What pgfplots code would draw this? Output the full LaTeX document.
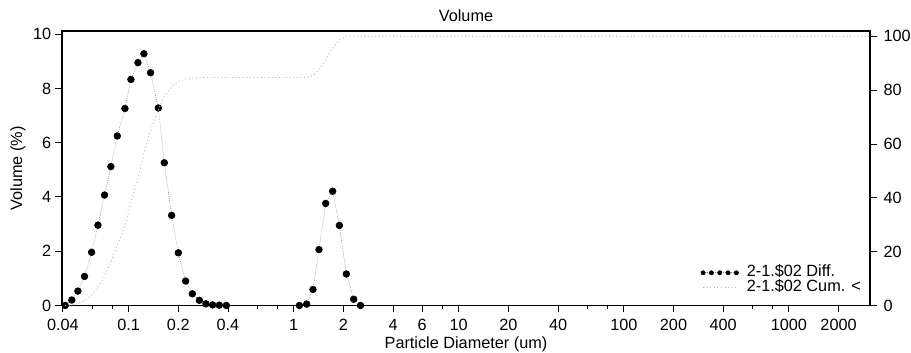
\documentclass[border=0pt]{standalone}
\usepackage{fontspec}
\setmainfont{Liberation Sans}
\usepackage{pgfplots}
\pgfplotsset{compat=1.18}
\definecolor{cumgray}{gray}{0.72}
\definecolor{lingray}{gray}{0.55}
\begin{document}
\begin{tikzpicture}
\pgfplotsset{
  every axis/.append style={font=\fontsize{12.2}{14}\selectfont},
  /pgf/number format/assume math mode=true,
  every axis title shift=0pt,
}
\begin{axis}[
  at={(0pt,0pt)}, anchor=south west,
  scale only axis, width=606pt, height=205.9pt,
  xmode=log, xmin=0.0395, xmax=3100,
  ymin=0, ymax=10.12,
  xtick={0.04,0.1,0.2,0.4,1,2,4,6,10,20,40,100,200,400,1000,2000},
  xticklabels={0.04,0.1,0.2,0.4,1,2,4,6,10,20,40,100,200,400,1000,2000},
  minor xtick={0.06,0.08,0.6,0.8,8,60,80,600,800},
  ytick={0,2,4,6,8,10},
  xtick pos=bottom, ytick pos=left,
  tick align=outside,
  major tick length=5pt, minor tick length=2.5pt,
  tick style={black, line width=0.7pt},
  axis line style={line width=0.9pt},
  xticklabel style={anchor=base, yshift=-14pt, inner sep=0pt},
  yticklabel style={anchor=east, inner sep=0pt, xshift=-3pt},
  title={Volume},
  title style={at={(axis description cs:0.5,1.0339)}, anchor=base, inner sep=0pt, yshift=0pt},
  xlabel={Particle Diameter (um)},
  xlabel style={at={(axis description cs:0.5,-0.1585)}, anchor=base, inner sep=0pt},
  ylabel={Volume (\%)},
  ylabel style={at={(axis description cs:-0.0545,0.5)}, anchor=center, inner sep=0pt},
]
\addplot[lingray, densely dotted, line width=0.5pt, mark=*, mark size=2.5pt,
  mark options={solid, fill=black, draw=black}] table {
x y
0.0413 0.00
0.0453 0.20
0.0493 0.53
0.0541 1.07
0.0597 1.96
0.0652 2.96
0.0715 4.07
0.0781 5.12
0.0854 6.25
0.0950 7.26
0.1033 8.33
0.1139 8.95
0.1238 9.28
0.1359 8.58
0.1514 7.28
0.1646 5.26
0.1823 3.32
0.2001 1.94
0.2216 0.90
0.2432 0.43
0.2683 0.19
0.2941 0.06
0.3229 0.02
0.3545 0.01
0.3910 0.00
};
\addplot[lingray, densely dotted, line width=0.5pt, mark=*, mark size=2.5pt,
  mark options={solid, fill=black, draw=black}] table {
x y
1.083 0.00
1.199 0.05
1.309 0.59
1.423 2.06
1.563 3.76
1.722 4.21
1.892 2.95
2.085 1.16
2.310 0.23
2.540 0.00
};
\end{axis}
\begin{axis}[
  at={(0pt,0pt)}, anchor=south west,
  scale only axis, width=606pt, height=205.9pt,
  xmode=log, xmin=0.0395, xmax=3100,
  ymin=0, ymax=102,
  axis x line=none, axis y line*=right,
  ytick={0,20,40,60,80,100},
  tick align=outside,
  major tick length=5pt,
  tick style={black, line width=0.7pt},
  axis line style={line width=0.9pt},
  yticklabel style={anchor=west, inner sep=0pt, xshift=5pt},
  legend style={draw=none, fill=none, at={(axis description cs:0.994,0.026)}, anchor=south east,
    font=\fontsize{12.2}{10.5}\selectfont, row sep=0pt,
    nodes={inner sep=0pt, text height=8.7pt, text depth=2.6pt},
    column sep=6pt},
  legend cell align=left,
]
\addlegendimage{legend image code/.code={
  \draw[lingray, densely dotted, line width=0.5pt] (0pt,0pt) -- (25pt,0pt);
  \fill[black] (0pt,0pt) circle (1.6pt);
  \fill[black] (6.25pt,0pt) circle (1.6pt);
  \fill[black] (12.5pt,0pt) circle (1.6pt);
  \fill[black] (18.75pt,0pt) circle (1.6pt);
  \fill[black] (25pt,0pt) circle (1.6pt);
}}
\addlegendentry{2-1.\$02 Diff.}
\addplot[cumgray, dotted, line width=0.7pt,
  legend image code/.code={\draw[cumgray, dotted, line width=0.7pt] (0pt,0pt) -- (25pt,0pt);}] table {
x y
0.0413 0.0
0.0453 0.2
0.0493 0.7
0.0541 1.8
0.0597 3.8
0.0652 6.8
0.0715 10.9
0.0781 16.1
0.0854 22.4
0.0950 29.7
0.1033 38.1
0.1139 47.2
0.1238 56.6
0.1359 65.2
0.1514 72.6
0.1646 77.9
0.1823 81.2
0.2001 83.2
0.2216 84.1
0.2432 84.5
0.2683 84.6
0.2941 84.7
0.5000 84.7
1.0000 84.7
1.0830 84.7
1.1990 84.8
1.3090 85.4
1.4230 87.5
1.5630 91.3
1.7220 95.6
1.8920 98.6
2.0850 99.8
2.3100 100.0
2.5400 100.0
10.000 100.0
100.00 100.0
1000.0 100.0
3100.0 100.0
};
\addlegendentry{2-1.\$02 Cum. <}
\end{axis}
\pgfresetboundingbox
\path[use as bounding box] (-46.5pt,-35.6pt) rectangle (636.75pt,229.1pt);
\end{tikzpicture}
\end{document}
